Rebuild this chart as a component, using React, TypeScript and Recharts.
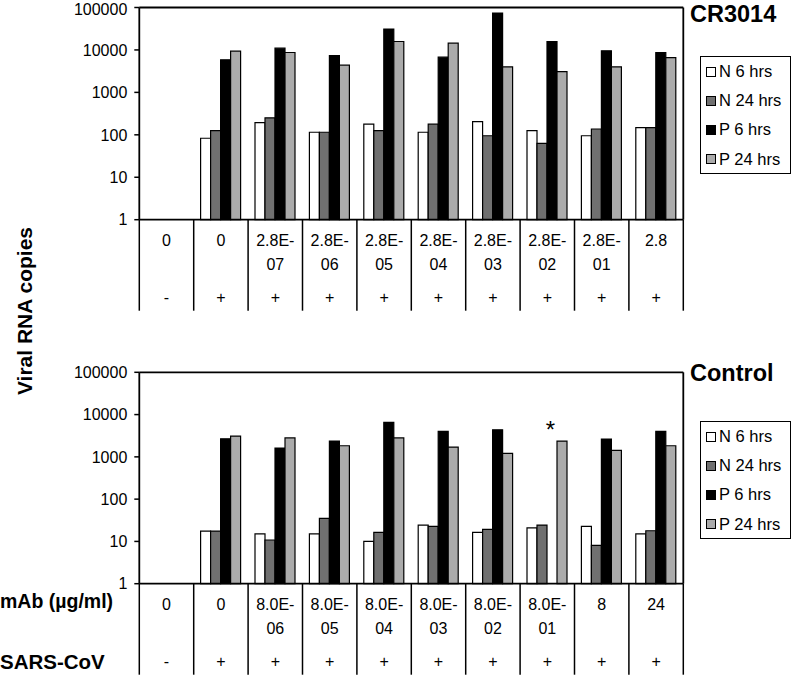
import React from 'react';
import { BarChart, Bar, XAxis, YAxis, Legend, ReferenceLine, ReferenceDot } from 'recharts';

const FONT = '"Liberation Sans", Arial, sans-serif';

// CR3014 panel
const topDoses = ['0', '0', '2.8E-07', '2.8E-06', '2.8E-05', '2.8E-04', '2.8E-03', '2.8E-02', '2.8E-01', '2.8'];
const topVirus = ['-', '+', '+', '+', '+', '+', '+', '+', '+', '+'];
const topN6 = [null, 83, 194, 115, 178, 115, 205, 126, 95, 148];
const topN24 = [null, 126, 251, 115, 126, 178, 95, 63, 137, 148];
const topP6 = [null, 5850, 11000, 7400, 31000, 6750, 74000, 15800, 9550, 8700];
const topP24 = [null, 9350, 8700, 4370, 15800, 14400, 4000, 3090, 4000, 6600];

// Control panel
const ctlDoses = ['0', '0', '8.0E-06', '8.0E-05', '8.0E-04', '8.0E-03', '8.0E-02', '8.0E-01', '8', '24'];
const ctlVirus = ['-', '+', '+', '+', '+', '+', '+', '+', '+', '+'];
const ctlN6 = [null, 17.6, 15, 15, 10, 24.4, 16.4, 21, 22.8, 15];
const ctlN24 = [null, 17.6, 10.8, 35, 16.4, 22.8, 19.3, 24.4, 8.1, 17.9];
const ctlP6 = [null, 2680, 1620, 2360, 6540, 4000, 4360, null, 2640, 4000];
const ctlP24 = [null, 3100, 2800, 1830, 2800, 1700, 1210, 2360, 1420, 1830];
const ctlStarIndex = 7;

const yTicks = [1, 10, 100, 1000, 10000, 100000];

const series = [
  { key: 'n6', name: 'N 6 hrs', color: '#ffffff' },
  { key: 'n24', name: 'N 24 hrs', color: '#707070' },
  { key: 'p6', name: 'P 6 hrs', color: '#000000' },
  { key: 'p24', name: 'P 24 hrs', color: '#ababab' },
];

const CHART_W = 792;
const CHART_H = 338;
const PLOT_W = 544;
const BAND = PLOT_W / 10;
const TABLE_H = 91;

const splitDose = (s: string) => {
  const i = s.indexOf('E-');
  return i >= 0 ? [s.slice(0, i + 2), s.slice(i + 2)] : [s];
};

const TableTick = (props: any) => {
  const { x, y, index, doses, virus, rowLabels } = props;
  const lines = splitDose(doses[index]);
  const txt = { fontFamily: FONT, fontSize: 16, fill: '#000', textAnchor: 'middle' as const };
  return (
    <g>
      <line x1={x - BAND / 2} x2={x - BAND / 2} y1={y} y2={y + TABLE_H} stroke="#000" strokeWidth={1.5} />
      {index === doses.length - 1 && (
        <line x1={x + BAND / 2} x2={x + BAND / 2} y1={y} y2={y + TABLE_H} stroke="#000" strokeWidth={1.5} />
      )}
      {lines.map((l, i) => (
        <text key={i} x={x} y={y + 26 + i * 24} {...txt}>{l}</text>
      ))}
      <text x={x} y={y + 83} {...txt}>{virus[index]}</text>
      {index === 0 && rowLabels && (
        <g fontFamily={FONT} fontWeight="bold" fill="#000">
          <text x={0} y={y + 24.6} fontSize={19.5}>{rowLabels[0]}</text>
          <text x={0} y={y + 85.3} fontSize={20.5}>{rowLabels[1]}</text>
        </g>
      )}
    </g>
  );
};

const LegendBox = () => (
  <div style={{ border: '1.5px solid #000', background: '#fff', width: 91, height: 118, boxSizing: 'border-box', fontFamily: FONT, fontSize: 16.5, color: '#000' }}>
    {series.map((s) => (
      <div key={s.key} style={{ display: 'flex', alignItems: 'center', height: 29.2, paddingLeft: 5 }}>
        <span style={{ width: 10, height: 10, boxSizing: 'border-box', border: '1.3px solid #000', background: s.color, marginRight: 3, display: 'inline-block' }} />
        <span>{s.name}</span>
      </div>
    ))}
  </div>
);

const Star = (p: any) => (
  <text x={p.cx + 3} y={p.cy + 8.5} textAnchor="middle" fontFamily={FONT} fontSize={24} fill="#000">*</text>
);

type PanelProps = {
  doses: string[];
  virus: string[];
  n6: (number | null)[];
  n24: (number | null)[];
  p6: (number | null)[];
  p24: (number | null)[];
  marginTop: number;
  marginBottom: number;
  legendTop: number;
  rowLabels?: string[];
  starIndex?: number;
};

const Panel = ({ doses, virus, n6, n24, p6, p24, marginTop, marginBottom, legendTop, rowLabels, starIndex }: PanelProps) => {
  const data = doses.map((d, i) => ({ key: `c${i}`, n6: n6[i], n24: n24[i], p6: p6[i], p24: p24[i] }));
  return (
    <BarChart
      width={CHART_W}
      height={CHART_H}
      data={data}
      margin={{ top: marginTop, right: 107.7, bottom: marginBottom, left: 0 }}
      barCategoryGap={6.9}
      barGap={0}
    >
      <XAxis
        dataKey="key"
        height={92}
        interval={0}
        tickLine={false}
        tickSize={0}
        tickMargin={0}
        axisLine={{ stroke: '#000', strokeWidth: 1.8 }}
        tick={(p: any) => <TableTick {...p} doses={doses} virus={virus} rowLabels={rowLabels} />}
      />
      <YAxis
        yAxisId="l"
        scale="log"
        domain={[1, 100000]}
        ticks={yTicks}
        width={139.3}
        tickSize={5}
        tickMargin={7}
        tick={{ fontSize: 16, fill: '#000', fontFamily: FONT }}
        tickLine={{ stroke: '#000', strokeWidth: 1.5 }}
        axisLine={{ stroke: '#000', strokeWidth: 1.8 }}
      />
      <YAxis
        yAxisId="r"
        orientation="right"
        scale="log"
        domain={[1, 100000]}
        width={1}
        tick={false}
        tickLine={false}
        axisLine={{ stroke: '#000', strokeWidth: 1.8 }}
      />
      <ReferenceLine yAxisId="l" y={100000} stroke="#000" strokeWidth={1.8} />
      <Legend
        layout="vertical"
        align="center"
        verticalAlign="middle"
        content={() => <LegendBox />}
        wrapperStyle={{ top: legendTop, left: 700, right: 'auto', bottom: 'auto', width: 91, height: 118 }}
      />
      {series.map((s) => (
        <Bar
          key={s.key}
          yAxisId="l"
          dataKey={s.key}
          name={s.name}
          fill={s.color}
          stroke="#000"
          strokeWidth={1.2}
          isAnimationActive={false}
        />
      ))}
      {starIndex !== undefined && (
        <ReferenceDot yAxisId="l" x={`c${starIndex}`} y={4370} r={0} shape={Star} />
      )}
    </BarChart>
  );
};

export default function App() {
  return (
    <div style={{ position: 'relative', width: 792, height: 676, background: '#fff', overflow: 'hidden' }}>
      <style>{'body{margin:0}'}</style>
      <div style={{ position: 'absolute', left: 0, top: 0 }}>
        <Panel
          doses={topDoses}
          virus={topVirus}
          n6={topN6}
          n24={topN24}
          p6={topP6}
          p24={topP24}
          marginTop={7.5}
          marginBottom={26.3}
          legendTop={56}
        />
      </div>
      <div style={{ position: 'absolute', left: 0, top: CHART_H }}>
        <Panel
          doses={ctlDoses}
          virus={ctlVirus}
          n6={ctlN6}
          n24={ctlN24}
          p6={ctlP6}
          p24={ctlP24}
          marginTop={34.3}
          marginBottom={0.3}
          legendTop={83}
          rowLabels={['mAb (µg/ml)', 'SARS-CoV']}
          starIndex={ctlStarIndex}
        />
      </div>
      <svg width={792} height={676} style={{ position: 'absolute', left: 0, top: 0, pointerEvents: 'none' }}>
        <g fontFamily={FONT} fontWeight="bold" fill="#000">
          <text transform="translate(31.7,311) rotate(-90)" textAnchor="middle" fontSize={21}>Viral RNA copies</text>
          <text x={690} y={22} fontSize={23.5}>CR3014</text>
          <text x={690} y={381} fontSize={23.5}>Control</text>
        </g>
      </svg>
    </div>
  );
}
